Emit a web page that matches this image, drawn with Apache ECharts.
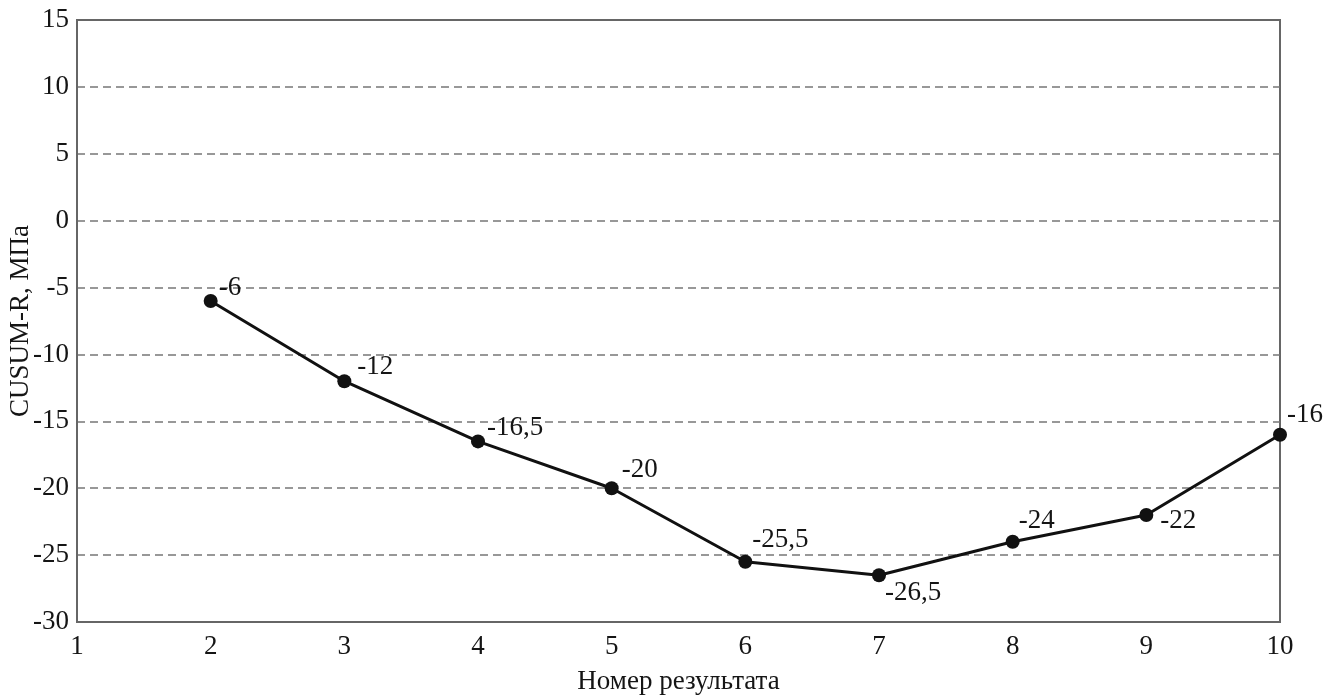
<!DOCTYPE html>
<html>
<head>
<meta charset="utf-8">
<script src="https://cdn.jsdelivr.net/npm/echarts@6/dist/echarts.min.js"></script>
<style>
  html, body { margin: 0; padding: 0; background: #fff; }
  #chart { width: 1327px; height: 695px; }
</style>
</head>
<body>
<div id="chart"></div>
<script>
// CUSUM-R by result number
const resultNumbers = [2, 3, 4, 5, 6, 7, 8, 9, 10];
const cusumValues = [-6, -12, -16.5, -20, -25.5, -26.5, -24, -22, -16];

// Label placement for each point: offset from the right side of the marker
const labelOffsets = [
  [1, -13], [6, -14], [2, -13], [3, -18], [0, -22],
  [-1, 18], [-1, -21], [7, 6], [0, -20]
];

const fmt = v => String(v).replace('.', ',');

const seriesData = resultNumbers.map((x, i) => ({
  value: [x, cusumValues[i]],
  label: { offset: labelOffsets[i] }
}));

const FONT = '"Liberation Serif", "DejaVu Serif", serif';
const TEXT = '#151515';
const chart = echarts.init(document.getElementById('chart'));
chart.setOption({
  animation: false,
  backgroundColor: '#ffffff',
  grid: {
    left: 77, right: 47, top: 20, bottom: 73,
    outerBoundsMode: 'none', containLabel: false,
    show: true, borderColor: '#666', borderWidth: 2
  },
  xAxis: {
    type: 'value', min: 1, max: 10, interval: 1,
    name: 'Номер результата', nameLocation: 'middle', nameGap: 46,
    nameMoveOverlap: false,
    nameTextStyle: { fontFamily: FONT, fontSize: 27, color: TEXT },
    axisLine: { show: true, onZero: false, lineStyle: { color: '#666', width: 2 } },
    axisTick: { show: false },
    axisLabel: { fontFamily: FONT, fontSize: 27, color: TEXT, margin: 11 },
    splitLine: { show: false }
  },
  yAxis: {
    type: 'value', min: -30, max: 15, interval: 5,
    name: 'CUSUM-R, МПа', nameLocation: 'middle', nameGap: 43,
    nameMoveOverlap: false,
    nameTextStyle: { fontFamily: FONT, fontSize: 27, color: TEXT },
    axisLine: { show: true, onZero: false, lineStyle: { color: '#666', width: 2 } },
    axisTick: { show: false },
    axisLabel: { fontFamily: FONT, fontSize: 27, color: TEXT, margin: 8 },
    splitLine: {
      show: true, showMinLine: false, showMaxLine: false,
      lineStyle: { color: '#777', width: 1.5, type: [8, 5] }
    }
  },
  series: [{
    type: 'line',
    data: seriesData,
    symbol: 'circle',
    symbolSize: 14,
    lineStyle: { color: '#111', width: 3 },
    itemStyle: { color: '#111' },
    label: {
      show: true, position: 'right', distance: 0,
      fontFamily: FONT, fontSize: 27, color: TEXT,
      formatter: p => fmt(p.value[1])
    }
  }]
});
</script>
</body>
</html>
